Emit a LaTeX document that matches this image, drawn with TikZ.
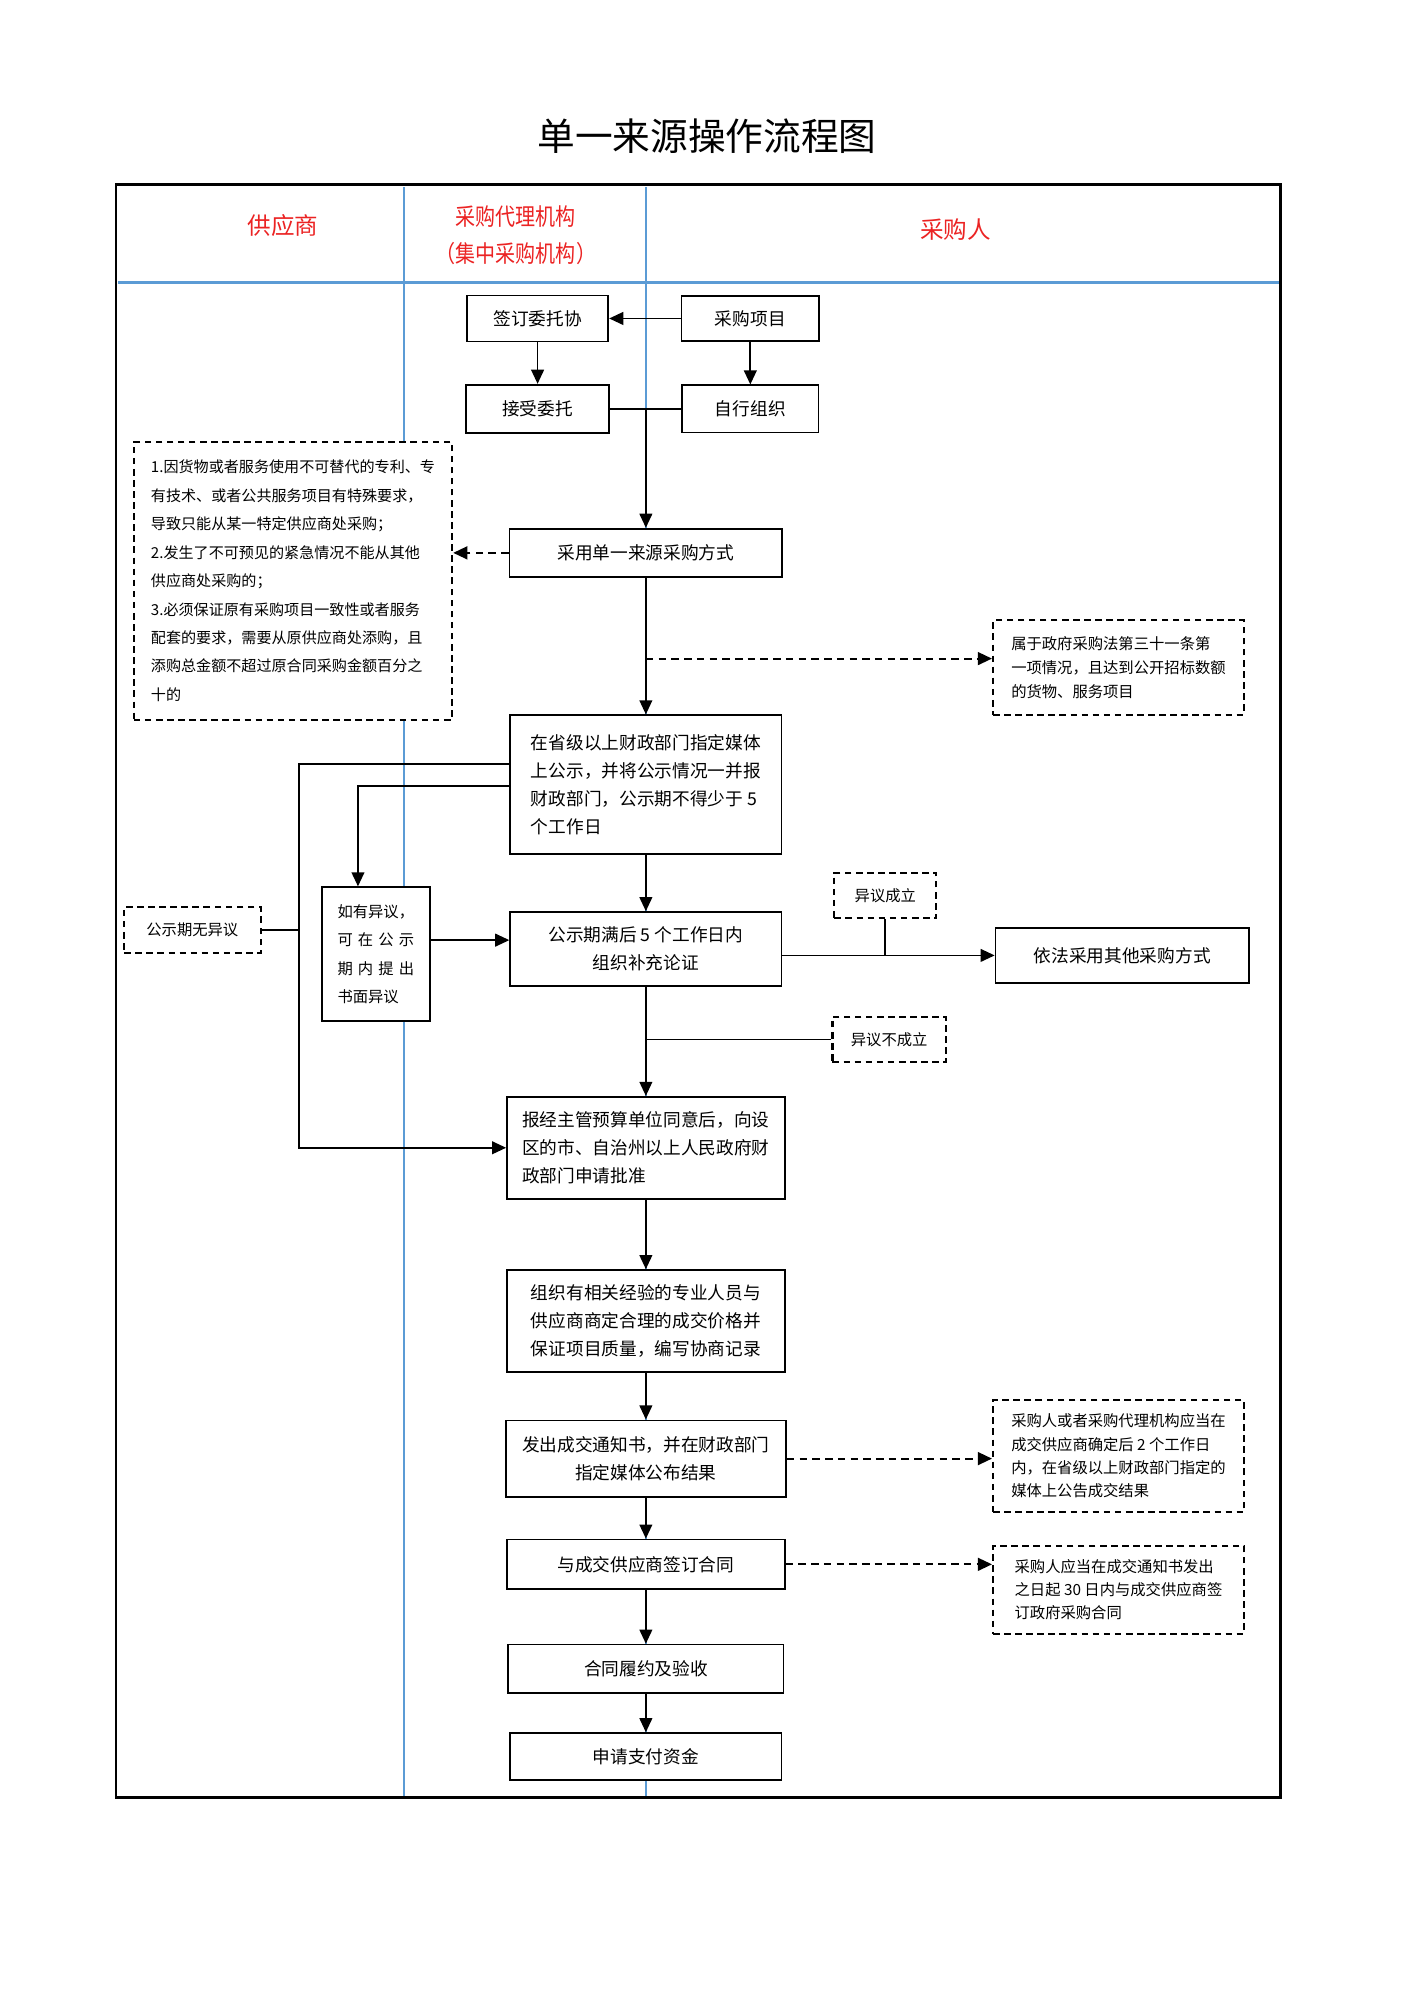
\documentclass[tikz,border=0pt]{standalone}
\usepackage{fontspec}
\setmainfont{Noto Sans CJK SC}
\usepackage{graphicx}
\usetikzlibrary{arrows.meta}

\definecolor{lane}{RGB}{91,155,213}
\definecolor{hdrred}{RGB}{235,35,35}
\newcommand{\upx}{0.019cm}

\tikzset{
  box/.style={draw, line width=0.75pt, fill=white, inner sep=0pt, align=center,
    font=\fontsize{7.5}{11.9}\selectfont},
  note/.style={draw, dash pattern=on 2.8pt off 1.9pt, line width=0.85pt, fill=white,
    inner sep=0pt, align=left, font=\fontsize{6.5}{10.1}\selectfont},
  sz/.style 2 args={minimum width=#1*\upx, minimum height=#2*\upx},
  flow/.style={line width=0.75pt, -{Triangle[length=2.1mm,width=1.9mm]}},
  dflow/.style={line width=0.9pt, dash pattern=on 3.2pt off 2.2pt,
    -{Triangle[length=2.1mm,width=1.9mm]}},
  link/.style={line width=0.75pt},
  hdr/.style={text=hdrred, align=center, font=\fontsize{10}{15.7}\selectfont},
}

\begin{document}
\begin{tikzpicture}[x=\upx, y=-\upx]
      \useasboundingbox (0,0) rectangle (1110,1570);
      %
      \node[font=\fontsize{16}{20}\selectfont] (title) at (555,107) {单一来源操作流程图};
      %
      \draw[lane, line width=0.6pt] (317,147) -- (317,1411); % lanes
      \draw[lane, line width=0.6pt] (507,147) -- (507,1411);
      \draw[lane, line width=1.2pt] (93,222) -- (1005,222);
      \draw[line width=1.2pt] (91,145) rectangle (1005,1411); % frame
      %
      \node[hdr] (hsup) at (222,177) {供应商};              % lane heads
      \node[hdr] (hagent) at (405,185) {\scalebox{0.85}[1]{采购代理机构}\\\scalebox{0.85}[1]{（集中采购机构）}};
      \node[hdr] (hbuyer) at (750,180) {采购人};
      %
      \node[box, sz={111}{36}] (sign) at (422,250) {签订委托协};   % top rows
      \node[box, sz={108}{35}] (proj) at (589,250) {采购项目};
      \node[box, sz={112}{38}] (accept) at (422,321) {接受委托};
      \node[box, sz={107}{37}] (self) at (589,321) {自行组织};
      %
      \node[box, sz={214}{38}] (single) at (507,434) {采用单一来源采购方式};
      \node[note, sz={250}{218}, font=\fontsize{6.4}{12.06}\selectfont] (cond) at (230,456)
        {1.因货物或者服务使用不可替代的专利、专\\有技术、或者公共服务项目有特殊要求，\\导致只能从某一特定供应商处采购；\\2.发生了不可预见的紧急情况不能从其他\\供应商处采购的；\\3.必须保证原有采购项目一致性或者服务\\配套的要求，需要从原供应商处添购，且\\添购总金额不超过原合同采购金额百分之\\十的};
      \node[note, sz={197}{74}, font=\fontsize{6.5}{10.3}\selectfont] (law) at (878,524)
        {属于政府采购法第三十一条第\\一项情况，且达到公开招标数额\\的货物、服务项目};
      %
      \node[box, sz={213}{109}, align=left] (pub) at (507,616)
        {在省级以上财政部门指定媒体\\上公示，并将公示情况一并报\\财政部门，公示期不得少于 5\\个工作日};
      \node[box, sz={85}{105}, align=left, font=\fontsize{6.5}{12}\selectfont] (obj) at (295,749)
        {如有异议，\\\makebox[5em]{可\hfill 在\hfill 公\hfill 示}\\\makebox[5em]{期\hfill 内\hfill 提\hfill 出}\\书面异议};
      \node[note, sz={107}{36}] (noobj) at (151,730) {公示期无异议};
      %
      \node[box, sz={213}{58}] (expire) at (507,745) {公示期满后 5 个工作日内\\组织补充论证};
      \node[note, sz={80}{36}] (ok) at (695,703) {异议成立};
      \node[box, sz={199}{43}] (other) at (881,750) {依法采用其他采购方式};
      \node[note, sz={89}{36}] (notok) at (698,816) {异议不成立};
      %
      \node[box, sz={218}{80}, align=left] (appr) at (507,901)
        {报经主管预算单位同意后，向设\\区的市、自治州以上人民政府财\\政部门申请批准};
      \node[box, sz={218}{80}] (nego) at (507,1037)
        {组织有相关经验的专业人员与\\供应商商定合理的成交价格并\\保证项目质量，编写协商记录};
      \node[box, sz={220}{60}] (notice) at (507,1145) {发出成交通知书，并在财政部门\\指定媒体公布结果};
      \node[note, sz={197}{88}, font=\fontsize{6.5}{9.9}\selectfont] (resnote) at (878,1143)
        {采购人或者采购代理机构应当在\\成交供应商确定后 2 个工作日\\内，在省级以上财政部门指定的\\媒体上公告成交结果};
      \node[box, sz={218}{39}] (contract) at (507,1228) {与成交供应商签订合同};
      \node[note, sz={197}{69}, font=\fontsize{6.5}{9.8}\selectfont] (connote) at (878,1248)
        {采购人应当在成交通知书发出\\之日起 30 日内与成交供应商签\\订政府采购合同};
      \node[box, sz={216}{38}] (perf) at (507,1310) {合同履约及验收};
      \node[box, sz={213}{37}] (pay) at (507,1379) {申请支付资金};
      %
      \coordinate (back) at (235,600);   % loop lines
      \coordinate (down) at (281,617);
      \coordinate (lawin) at (507,517);
      %
      \draw[flow] (proj.west) -- (sign.east);
      \draw[flow] (sign.south) -- (accept.north);
      \draw[flow] (proj.south) -- (self.north);
      \draw[link] (accept.east) -- (self.west);
      \draw[flow] (accept.east -| single.north) -- (single.north);
      \draw[dflow] (single.west) -- (single.west -| cond.east);
      \draw[flow] (single.south) -- (pub.north);
      \draw[dflow] (lawin) -- (lawin -| law.west);
      %
      \draw[flow] (pub.west |- back) -- (back) |- (appr.west);
      \draw[flow] (pub.west |- down) -- (down) -- (down |- obj.north);
      \draw[link] (noobj.east) -- (noobj.east -| back);
      \draw[flow] ([yshift=11*\upx]obj.east) -- ([yshift=11*\upx]obj.east -| expire.west);
      \draw[flow] (pub.south) -- (expire.north);
      %
      \draw[flow] (expire.east |- other.west) -- (other.west);
      \draw[link] (ok.south) -- (ok.south |- other.west);
      \draw[flow] (expire.south) -- (appr.north);
      \draw[link] (expire.south |- notok.west) -- (notok.west);
      %
      \draw[flow] (appr.south) -- (nego.north);
      \draw[flow] (nego.south) -- (notice.north);
      \draw[dflow] (notice.east) -- (notice.east -| resnote.west);
      \draw[flow] (notice.south) -- (contract.north);
      \draw[dflow] (contract.east) -- (contract.east -| connote.west);
      \draw[flow] (contract.south) -- (perf.north);
      \draw[flow] (perf.south) -- (pay.north);
      %
    \end{tikzpicture}
\end{document}
